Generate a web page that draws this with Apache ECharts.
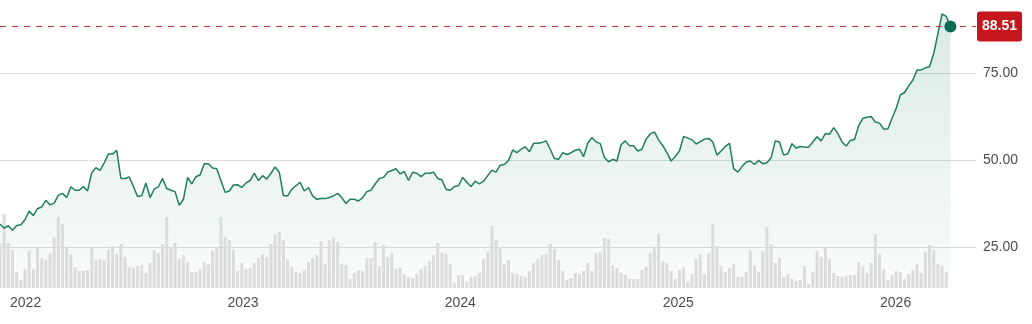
<!DOCTYPE html>
<html><head><meta charset="utf-8">
<script src="https://cdn.jsdelivr.net/npm/echarts@6/dist/echarts.min.js"></script>
<style>html,body{margin:0;padding:0;background:#fff}#c{width:1032px;height:324px}</style>
</head><body><div id="c"></div>
<script>
// Weekly closes, first week ending 2021-11-19
const startDate = '2021-11-19';
const closePrices = [
  31.7,30.5,31.2,29.9,31.3,31.5,33.0,35.4,34.1,36.1,36.6,38.5,37.2,37.7,40.0,40.5,39.3,42.4,41.4,41.4,
  42.5,41.2,46.4,47.9,47.1,49.3,51.8,51.8,52.9,44.8,44.8,45.2,42.5,39.6,39.8,43.5,39.3,41.7,42.4,
  44.8,41.9,41.4,41.0,37.1,38.8,45.1,43.2,45.3,45.8,49.0,49.0,47.8,47.6,44.2,40.8,41.2,42.9,43.0,42.2,
  43.5,44.2,46.3,44.2,45.6,44.6,46.3,48.1,46.6,39.8,39.8,41.7,42.7,43.7,41.2,42.2,39.8,38.8,
  39.0,39.0,39.3,39.8,40.5,39.3,37.6,38.8,38.8,38.3,39.3,41.0,41.4,43.2,44.8,45.1,46.6,47.1,47.6,46.1,
  46.8,44.2,46.6,46.3,45.3,46.3,46.3,46.6,44.8,44.4,41.7,41.4,42.5,42.7,45.1,43.7,42.5,44.0,
  43.2,44.0,45.6,47.2,46.6,48.6,48.8,50.0,53.0,52.2,53.2,53.9,52.5,54.9,54.9,55.1,55.6,53.2,50.5,50.3,
  52.2,51.7,52.2,52.9,53.2,51.1,54.9,56.6,55.3,54.8,50.8,49.6,50.3,49.8,54.5,55.6,54.2,54.2,52.7,
  53.2,56.1,57.6,58.2,55.9,54.2,52.2,49.8,51.1,52.7,56.9,56.4,55.9,54.7,55.4,56.1,56.3,55.3,51.5,52.7,
  54.0,54.9,47.6,46.6,48.2,49.5,49.8,48.8,50.0,49.0,49.3,50.8,55.6,55.3,51.5,51.9,54.8,53.5,54.0,
  53.8,53.8,55.3,56.8,55.6,57.7,57.5,59.4,57.7,55.3,54.1,55.7,56.0,60.0,62.1,62.4,62.6,61.0,60.7,59.0,
  59.0,62.1,65.0,68.8,69.5,71.4,73.1,76.0,76.0,76.6,76.9,80.7,86.4,92.1,91.4,88.51
];
// Weekly volume (relative units)
const volumes = [
  44,74,45,38,16,8,19,37,19,40,30,28,35,51,71,64,41,34,21,17,
  17,18,40,28,29,28,38,42,34,44,31,21,20,22,23,15,25,38,35,44,
  71,41,45,29,33,26,16,16,19,26,24,37,41,71,51,48,38,17,25,19,
  20,25,30,34,31,44,54,56,48,29,21,16,15,18,26,30,33,
  47,24,48,51,46,24,23,9,15,18,17,30,30,46,22,43,31,35,19,20,
  14,11,10,14,19,22,27,33,45,35,34,24,5,13,13,6,11,12,
  15,29,36,62,48,41,24,28,15,14,12,11,17,25,29,33,34,44,39,28,
  17,8,10,15,14,17,25,17,35,36,50,49,23,20,15,13,9,9,9,18,
  21,35,41,54,27,25,17,9,18,21,6,14,29,34,14,35,64,42,22,16,
  20,24,11,11,16,
  37,22,16,37,61,44,25,30,11,14,9,7,
  8,22,4,16,37,31,40,29,15,12,11,12,13,13,26,22,15,25,54,34,
  19,8,13,17,16,9,14,18,24,15,36,43,38,24,22,16,
  null
];
const yearLabels = ['2022','2023','2024','2025','2026'];
const priceTicks = [25, 50, 75];

const DAY = 86400000;
const t0 = Date.parse(startDate + 'T00:00:00Z');
const dates = closePrices.map((_, i) => t0 + i * 7 * DAY);
const priceData = closePrices.map((v, i) => [dates[i], v]);
const volData = volumes.map((v, i) => [dates[i], v]);
const last = priceData[priceData.length - 1];
const yearTicks = yearLabels.map(y => Date.UTC(+y, 0, 1));

const font = "'Liberation Sans', Arial, sans-serif";
const chart = echarts.init(document.getElementById('c'), null, {renderer: 'canvas'});
chart.setOption({
  animation: false,
  grid: {left: 0, right: 56, top: 0, bottom: 36},
  xAxis: {
    type: 'value', min: t0, max: t0 + 1639 * DAY,
    axisLine: {show: false}, axisTick: {show: false}, splitLine: {show: false},
    axisLabel: {customValues: yearTicks, formatter: v => String(new Date(v).getUTCFullYear()),
      color: '#4d4d4d', fontSize: 14, margin: 8, fontFamily: font}
  },
  yAxis: [
    {type: 'value', position: 'right', min: 13.3, max: 96.1,
     axisLine: {show: false}, axisTick: {show: false, customValues: priceTicks},
     axisLabel: {customValues: priceTicks, formatter: v => v.toFixed(2), color: '#4d4d4d',
       fontSize: 14, margin: 7, fontFamily: font},
     splitLine: {show: true, lineStyle: {color: '#dcdcdc', width: 1}}},
    {type: 'value', min: 0, max: 288, show: false, splitLine: {show: false}}
  ],
  series: [
    {type: 'line', data: priceData, symbol: 'none', z: 1, silent: true,
     lineStyle: {width: 0, opacity: 0},
     areaStyle: {origin: 'start', color: {type: 'linear', x: 0, y: 0, x2: 0, y2: 1,
       colorStops: [{offset: 0, color: 'rgba(31,128,99,0.23)'}, {offset: 1, color: 'rgba(31,128,99,0.04)'}]}}},
    {type: 'bar', yAxisIndex: 1, data: volData, barWidth: 3, z: 2, silent: true,
     itemStyle: {color: '#dcdcdc'}},
    {type: 'line', data: priceData, symbol: 'none', z: 3, silent: true,
     lineStyle: {color: '#1f7d60', width: 1.5},
     markLine: {symbol: 'none', silent: true, data: [{yAxis: last[1]}],
       lineStyle: {color: '#c0392b', type: [6, 6], width: 1},
       label: {position: 'end', distance: 1, formatter: p => p.value.toFixed(2),
         backgroundColor: '#c4161c', color: '#fff', fontWeight: 'bold', fontSize: 14,
         lineHeight: 14, fontFamily: font, padding: [8, 5, 8, 5], borderRadius: 3}}},
    {type: 'scatter', data: [last], symbolSize: 12, z: 5, silent: true,
     itemStyle: {color: '#0a6d53', opacity: 1}}
  ]
});
</script></body></html>
